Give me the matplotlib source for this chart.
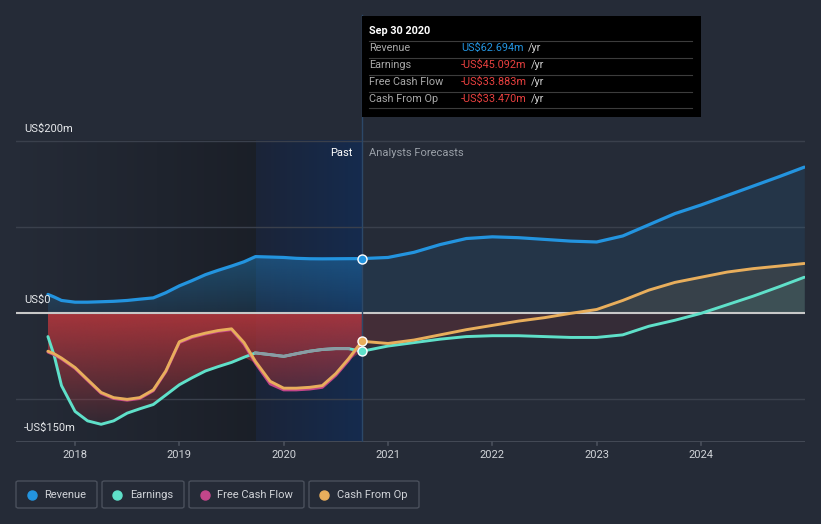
import numpy as np
import matplotlib
matplotlib.use("Agg")
import matplotlib.pyplot as plt
from matplotlib.patches import PathPatch, FancyBboxPatch, Rectangle
from matplotlib.lines import Line2D

plt.rcParams['font.family'] = ['Roboto', 'DejaVu Sans']

# ---------------- data ----------------
past_x = [2017.74, 2017.80, 2017.87, 2018.00, 2018.12, 2018.25, 2018.37, 2018.50, 2018.62,
          2018.75, 2018.87, 2019.00, 2019.12, 2019.25, 2019.37, 2019.50, 2019.62, 2019.73,
          2019.87, 2020.00, 2020.12, 2020.25, 2020.37, 2020.50, 2020.62, 2020.75]
revenue_past = [21, 18, 14, 12, 12, 12.5, 13, 14, 15.5, 17, 23, 31, 37, 44, 49, 54, 59, 65,
                64.5, 64, 63, 62.5, 62.4, 62.5, 62.6, 62.694]
earnings_past = [-28, -50, -85, -115, -126, -130, -126, -117, -112, -107, -96, -84, -76, -68,
                 -63, -58, -52, -47, -49, -51, -48, -45, -43, -42, -42, -45.092]
cfo_past = [-45, -48, -53, -64, -78, -93, -99, -101, -99, -90, -68, -34, -28, -24, -21, -19,
            -35, -57, -80, -88, -88, -87, -85, -71, -54, -33.470]
fcf_past = [-46, -49, -54, -65, -79, -94, -100, -102, -100, -91, -69, -35, -29, -25, -22, -20,
            -37, -59, -83, -90, -90, -89, -87, -73, -56, -33.883]

fc_x = [2020.75, 2021.00, 2021.25, 2021.50, 2021.75, 2022.00, 2022.25, 2022.50, 2022.75,
        2023.00, 2023.25, 2023.50, 2023.75, 2024.00, 2024.25, 2024.50, 2024.75, 2024.99]
revenue_fc = [62.694, 64, 70, 79, 86, 88, 87, 85, 83, 82, 89, 102, 115, 125, 136, 147, 158, 169]
earnings_fc = [-45.092, -39, -35, -31, -28, -27, -27, -28, -29, -29, -26, -16, -9, -1, 9, 19, 30, 41]
cfo_fc = [-33.470, -36, -32, -26, -20, -15, -10, -6, -1, 3.5, 14, 26, 35, 41, 47, 51, 54, 57]

year_ticks = [2018, 2019, 2020, 2021, 2022, 2023, 2024]
y_labels = ["US$200m", "US$0", "-US$150m"]
legend_names = ["Revenue", "Earnings", "Free Cash Flow", "Cash From Op"]
tooltip_title = "Sep 30 2020"
tooltip_rows = [("Revenue", "US$62.694m"), ("Earnings", "-US$45.092m"),
                ("Free Cash Flow", "-US$33.883m"), ("Cash From Op", "-US$33.470m")]

# ---------------- style ----------------
BG = '#252b37'
C_REV = '#2394df'
C_EARN = '#5fe0c9'
C_FCF = '#c2468a'
C_CFO = '#e8ae5c'
W, H = 821, 524

fig = plt.figure(figsize=(W / 100, H / 100), dpi=100, facecolor=BG)
ax = fig.add_axes([16 / W, 1 - 441.5 / H, 789 / W, 441.5 / H])
ax.set_facecolor(BG)
XMIN, XMAX = 2017.434, 2024.997
YMIN, YMAX = -150, -150 + 441.5 / 0.86
ax.set_xlim(XMIN, XMAX)
ax.set_ylim(YMIN, YMAX)
for s in ax.spines.values():
    s.set_visible(False)
ax.set_xticks([])
ax.set_yticks([])

PAST_START_HL = 2019.73
NOW = 2020.75

# background shading of past
grad = np.zeros((2, 256, 4))
grad[..., 3] = np.linspace(0.0, 0.28, 256)[None, :]
ax.imshow(grad, extent=[XMIN, PAST_START_HL, -150, 200], aspect='auto', zorder=0.5,
          interpolation='bilinear')
blue = np.zeros((2, 256, 4))
c0 = np.array([27, 36, 56]) / 255
c1 = np.array([21, 43, 78]) / 255
t = np.linspace(0, 1, 256)
blue[..., :3] = (c0[None, :] * (1 - t[:, None]) + c1[None, :] * t[:, None])[None, :, :]
blue[..., 3] = 1.0
ax.imshow(blue, extent=[PAST_START_HL, NOW, -150, 200], aspect='auto', zorder=0.6,
          interpolation='bilinear')

# grid lines
for yv in [200, 100, -100]:
    ax.axhline(yv, color='#3a404c', lw=1.0, zorder=1)
ax.axhline(-150, color='#4a505c', lw=1.2, zorder=1)

px = np.array(past_x)
fx = np.array(fc_x)


def grad_fill(x, y, rgb, a_top, a_bot, z, y0, y1):
    """Fill between 0 and y with a vertical alpha gradient from a_top (at y1) to a_bot (at y0)."""
    poly = ax.fill_between(x, 0, y, facecolor='none', edgecolor='none')
    path = poly.get_paths()[0]
    patch = PathPatch(path, transform=ax.transData, facecolor='none', edgecolor='none')
    ax.add_patch(patch)
    img = np.zeros((256, 2, 4))
    img[..., :3] = np.array(matplotlib.colors.to_rgb(rgb))
    img[..., 3] = np.linspace(a_top, a_bot, 256)[:, None]
    im = ax.imshow(img, extent=[x.min(), x.max(), y0, y1], aspect='auto',
                   zorder=z, interpolation='bilinear', origin='upper')
    im.set_clip_path(patch)


# revenue fills
grad_fill(px, np.array(revenue_past), C_REV, 0.40, 0.14, 1.2, 0, 70)
ax.fill_between(fx, 0, revenue_fc, color=C_REV, alpha=0.10, lw=0, zorder=1.2)

# negative fill past (single red gradient over the union)
neg_low = np.minimum(np.minimum(earnings_past, fcf_past), cfo_past)
grad_fill(px, neg_low, '#b8373d', 0.88, 0.05, 1.3, -140, 0)

# forecast fills
for ser, col in [(earnings_fc, C_EARN), (cfo_fc, C_CFO)]:
    arr = np.array(ser)
    ax.fill_between(fx, 0, arr, where=arr <= 0, interpolate=True, color='#d8403f',
                    alpha=0.09, lw=0, zorder=1.3)
    ax.fill_between(fx, 0, arr, where=arr >= 0, interpolate=True, color=col,
                    alpha=0.10, lw=0, zorder=1.3)

# zero line
ax.axhline(0, color='#c8c8c8', lw=1.5, zorder=2)

# now line
ax.axvline(NOW, ymin=0, ymax=1 - 15 / 441.5, color='#2c4868', lw=1.0, zorder=2)

# lines
LW = 2.1
ax.plot(px, revenue_past, color=C_REV, lw=2.3, zorder=4, solid_capstyle='round')
ax.plot(fx, revenue_fc, color=C_REV, lw=2.3, zorder=4, solid_capstyle='round')
ax.plot(px, earnings_past, color=C_EARN, lw=LW, zorder=3.5, solid_capstyle='round')
mask = px >= PAST_START_HL - 0.02
ax.plot(px[mask][:-1], np.array(earnings_past)[mask][:-1], color='#8c9ba4', lw=LW, zorder=3.6)
ax.plot(fx, earnings_fc, color=C_EARN, lw=LW, zorder=3.5, solid_capstyle='round')
ax.plot(px, fcf_past, color=C_FCF, lw=LW, zorder=3.7, solid_capstyle='round')
ax.plot(px, cfo_past, color=C_CFO, lw=LW, zorder=3.8, solid_capstyle='round')
ax.plot(fx, cfo_fc, color=C_CFO, lw=LW, zorder=3.8, solid_capstyle='round')

# markers at now
for val, col in [(revenue_past[-1], C_REV), (earnings_past[-1], C_EARN),
                 (cfo_past[-1], C_CFO)]:
    ax.plot([NOW], [val], 'o', ms=6.5, mfc=col, mec='white', mew=1.0, zorder=6)

# x ticks
for yr in year_ticks:
    ax.plot([yr, yr], [-150, -150 - 3.5 / 0.86], color='#4a505c', lw=1.2, zorder=2,
            clip_on=False)
    ax.text(yr, -150 - 14 / 0.86, str(yr), color='#d0d3d8', fontsize=8, ha='center',
            va='center')

# y labels
for lab, ypix in zip(y_labels, [129, 300, 428]):
    fig.text(24 / W, 1 - ypix / H, lab, color='#e6e8eb', fontsize=8, ha='left', va='center')

# Past / Analysts Forecasts
fig.text(352 / W, 1 - 153 / H, "Past", color='#ffffff', fontsize=8, ha='right', va='center')
fig.text(369 / W, 1 - 153 / H, "Analysts Forecasts", color='#9aa0a8', fontsize=8,
         ha='left', va='center')

# tooltip
fig.patches.append(Rectangle((362 / W, 1 - 117 / H), 339 / W, 101 / H,
                             transform=fig.transFigure, facecolor='#000000',
                             edgecolor='none', zorder=10))
fig.text(369 / W, 1 - 31 / H, tooltip_title, color='white', fontsize=7.8,
         fontweight='bold', ha='left', va='center', zorder=11)
for i, (lab, val) in enumerate(tooltip_rows):
    yc = 48 + i * 17
    ysep = yc - 7.5
    fig.lines.append(Line2D([369 / W, 692 / W], [1 - ysep / H, 1 - ysep / H],
                            transform=fig.transFigure, color='#3c3c3c', lw=0.8, zorder=11))
    fig.text(369 / W, 1 - yc / H, lab, color='#a8a8a8', fontsize=7.8, ha='left',
             va='center', zorder=11)
    vcol = C_REV if i == 0 else '#e8403f'
    tx = fig.text(461 / W, 1 - yc / H, val, color=vcol, fontsize=7.8, ha='left',
                  va='center', zorder=11)
    fig.canvas.draw()
    bb = tx.get_window_extent()
    fig.text((bb.x1 + 4) / W, 1 - yc / H, "/yr", color='#d0d0d0', fontsize=7.8,
             ha='left', va='center', zorder=11)
ysep = 48 + 3 * 17 + 9.5
fig.lines.append(Line2D([369 / W, 692 / W], [1 - ysep / H, 1 - ysep / H],
                        transform=fig.transFigure, color='#3c3c3c', lw=0.8, zorder=11))

# legend
boxes = [(16, 97, 31.7, 44.3), (102, 184, 117.3, 130), (189, 304, 205, 217.3),
         (309, 419, 324.3, 337.3)]
cols = [C_REV, C_EARN, C_FCF, C_CFO]
for (x0, x1, dx, tx0), name, col in zip(boxes, legend_names, cols):
    fig.patches.append(FancyBboxPatch((x0 / W, 1 - 508 / H), (x1 - x0) / W, 27 / H,
                                      boxstyle='round,pad=0,rounding_size=0.003',
                                      transform=fig.transFigure, facecolor='none',
                                      edgecolor='#4a505c', lw=1.0))
    fig.lines.append(Line2D([dx / W], [1 - 494.5 / H], marker='o', ms=6.5, mfc=col,
                            mec=col, transform=fig.transFigure))
    fig.text(tx0 / W, 1 - 494.5 / H, name, color='#d0d3d8', fontsize=8, ha='left',
             va='center')

fig.savefig('out.png', dpi=100, facecolor=BG)
